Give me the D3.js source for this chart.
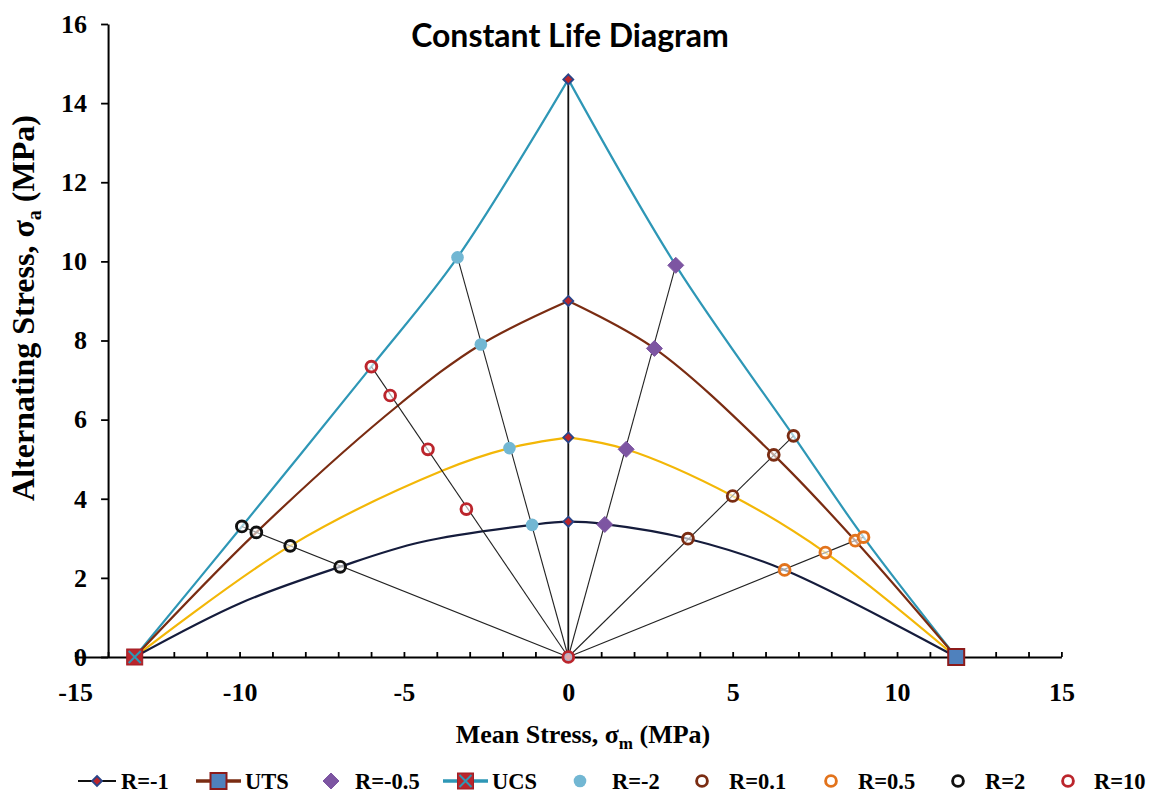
<!DOCTYPE html>
<html>
<head>
<meta charset="utf-8">
<script src="https://cdn.jsdelivr.net/npm/d3@7"></script>
<style>
  body { margin: 0; background: #fff; }
  svg { display: block; }
</style>
</head>
<body>
<svg id="chart" width="1151" height="806"></svg>
<script>
// ---- axis ticks ----
const xTickValues = d3.range(-15, 16, 1);
const xTickLabels = [-15, -10, -5, 0, 5, 10, 15];
const yTickValues = [0, 2, 4, 6, 8, 10, 12, 14, 16];

// ---- constant life curves (mean stress, alternating stress) in MPa ----
const ucsCurve = [[-13.19, 0], [-9.93, 3.30], [-5.99, 7.34], [-3.37, 10.10], [0, 14.60],
                  [3.27, 9.90], [6.85, 5.59], [8.98, 3.03], [11.80, 0]];
const utsCurve = [[-13.19, 0], [-9.49, 3.15], [-5.16, 6.37], [-2.66, 7.90], [0, 9.00],
                  [2.62, 7.80], [6.25, 5.11], [8.73, 2.94], [11.80, 0]];
const midCurve = [[-13.19, 0], [-8.46, 2.81], [-3.80, 4.72], [-1.79, 5.28], [0, 5.55],
                  [1.76, 5.25], [5.00, 4.07], [7.82, 2.64], [11.80, 0]];
const lowCurve = [[-13.19, 0], [-9.98, 1.36], [-6.94, 2.28], [-4.50, 2.90], [-1.10, 3.34], [0, 3.42],
                  [1.10, 3.36], [3.64, 2.99], [6.58, 2.20], [11.80, 0]];

// ---- stress ratio series ----
const rNeg1 = [[0, 0], [0, 3.42], [0, 5.55], [0, 9.00], [0, 14.60]];
const utsPoint = [[11.80, 0]];
const rNeg05 = [[1.11, 3.35], [1.76, 5.25], [2.62, 7.80], [3.27, 9.90]];
const ucsPoint = [[-13.19, 0]];
const rNeg2 = [[-1.10, 3.34], [-1.79, 5.28], [-2.66, 7.90], [-3.37, 10.10]];
const r01 = [[3.64, 2.99], [5.00, 4.07], [6.25, 5.11], [6.85, 5.59]];
const r05 = [[6.58, 2.20], [7.82, 2.64], [8.73, 2.94], [8.98, 3.03]];
const r2 = [[-6.94, 2.28], [-8.46, 2.81], [-9.49, 3.15], [-9.93, 3.30]];
const r10 = [[0, 0], [-3.10, 3.74], [-4.27, 5.25], [-5.42, 6.61], [-5.99, 7.34]];

const legendNames = ["R=-1", "UTS", "R=-0.5", "UCS", "R=-2", "R=0.1", "R=0.5", "R=2", "R=10"];

// ---- colours ----
const C = {
  teal: "#2e97b6", brown: "#7a2c12", gold: "#f3b707", navy: "#151c3c",
  purple: "#7d55a2", sky: "#72b7d3", red: "#bb252c", orange: "#e2731c",
  blue: "#4f81bd", darkRed: "#8c1b1b", diamondEdge: "#2a4488", black: "#111"
};

const svg = d3.select("#chart");
const x = d3.scaleLinear().domain([-15, 15]).range([75.2, 1061.4]);
const y = d3.scaleLinear().domain([0, 16]).range([657, 24]);

// ---- title ----
svg.append("text")
  .attr("x", 570).attr("y", 47)
  .attr("text-anchor", "middle")
  .style("font-family", "Lato, 'Open Sans', sans-serif")
  .style("font-weight", 700).style("font-size", "32px")
  .text("Constant Life Diagram");

// ---- axes ----
const serif = "'Liberation Serif', 'Times New Roman', serif";

const xAxis = d3.axisBottom(x)
  .tickValues(xTickValues)
  .tickSizeInner(-5).tickSizeOuter(0)
  .tickPadding(26)
  .tickFormat(d => xTickLabels.includes(d) ? d : "");
const gx = svg.append("g").attr("transform", `translate(0,${y(0)})`).call(xAxis);

const yAxis = d3.axisLeft(y)
  .tickValues(yTickValues)
  .tickSizeInner(7).tickSizeOuter(0)
  .tickPadding(14);
const gy = svg.append("g").attr("transform", `translate(${x(-14)},0)`).call(yAxis);

[gx, gy].forEach(g => {
  g.select(".domain").attr("stroke", "#000").attr("stroke-width", 2);
  g.selectAll(".tick line").attr("stroke", "#000").attr("stroke-width", 1.8);
  g.selectAll(".tick text")
    .attr("fill", "#000")
    .style("font-family", serif).style("font-weight", 700).style("font-size", "26px");
});

// axis titles
const xTitle = svg.append("text")
  .attr("x", 583).attr("y", 743)
  .attr("text-anchor", "middle")
  .style("font-family", serif).style("font-weight", 700).style("font-size", "26px");
xTitle.append("tspan").text("Mean Stress, σ");
xTitle.append("tspan").attr("dy", 6).style("font-size", "17px").text("m");
xTitle.append("tspan").attr("dy", -6).text(" (MPa)");

const yTitle = svg.append("text")
  .attr("transform", "translate(34,308) rotate(-90)")
  .attr("text-anchor", "middle")
  .style("font-family", serif).style("font-weight", 700).style("font-size", "32px");
yTitle.append("tspan").text("Alternating Stress, σ");
yTitle.append("tspan").attr("dy", 7).style("font-size", "20px").text("a");
yTitle.append("tspan").attr("dy", -7).text(" (MPa)");

// ---- curves ----
const smooth = d3.line().x(d => x(d[0])).y(d => y(d[1])).curve(d3.curveCatmullRom.alpha(0.5));
const straight = d3.line().x(d => x(d[0])).y(d => y(d[1]));

// split a curve at its peak so each flank is smoothed separately
function flanks(pts) {
  const i = pts.findIndex(p => p[0] === 0);
  return [pts.slice(0, i + 1), pts.slice(i)];
}

const plot = svg.append("g");

[[ucsCurve, C.teal, true], [utsCurve, C.brown, true], [midCurve, C.gold, true], [lowCurve, C.navy, false]]
  .forEach(([pts, col, split]) => {
    const parts = split ? flanks(pts) : [pts];
    parts.forEach(p => plot.append("path")
      .attr("d", smooth(p)).attr("fill", "none")
      .attr("stroke", col).attr("stroke-width", 2.2));
  });

// rays from the origin along each stress ratio
[rNeg05, rNeg2, r01, r05, r2, r10].forEach(pts => {
  const far = pts.reduce((a, b) => (Math.hypot(b[0], b[1]) > Math.hypot(a[0], a[1]) ? b : a));
  plot.append("path")
    .attr("d", straight([[0, 0], far])).attr("fill", "none")
    .attr("stroke", "#222").attr("stroke-width", 1.1);
});
plot.append("path").attr("d", straight(rNeg1)).attr("fill", "none")
  .attr("stroke", C.black).attr("stroke-width", 1.8);

// ---- markers ----
function marker(g, type, cx, cy) {
  switch (type) {
    case "diamondSmall": {
      const s = 5;
      g.append("path").attr("d", `M${cx},${cy - s}L${cx + s},${cy}L${cx},${cy + s}L${cx - s},${cy}Z`)
        .attr("fill", C.red).attr("stroke", C.diamondEdge).attr("stroke-width", 1.8);
      break;
    }
    case "diamondBig": {
      const s = 8;
      g.append("path").attr("d", `M${cx},${cy - s}L${cx + s},${cy}L${cx},${cy + s}L${cx - s},${cy}Z`)
        .attr("fill", C.purple).attr("stroke", C.purple).attr("stroke-width", 1);
      break;
    }
    case "uts":
      g.append("rect").attr("x", cx - 8).attr("y", cy - 8).attr("width", 16).attr("height", 16)
        .attr("fill", C.blue).attr("stroke", C.darkRed).attr("stroke-width", 2);
      break;
    case "ucs":
      g.append("rect").attr("x", cx - 8).attr("y", cy - 8).attr("width", 16).attr("height", 16)
        .attr("fill", C.red).attr("stroke", "#a01f24").attr("stroke-width", 1);
      g.append("path").attr("d", `M${cx - 6},${cy - 6}L${cx + 6},${cy + 6}M${cx + 6},${cy - 6}L${cx - 6},${cy + 6}`)
        .attr("stroke", C.teal).attr("stroke-width", 2);
      break;
    case "dot":
      g.append("circle").attr("cx", cx).attr("cy", cy).attr("r", 6.3).attr("fill", C.sky);
      break;
    default: // open ring, type holds the colour
      g.append("circle").attr("cx", cx).attr("cy", cy).attr("r", 5.4)
        .attr("fill", "#fff").attr("fill-opacity", 0.6)
        .attr("stroke", type).attr("stroke-width", 2.9);
  }
}

const seriesMarks = [
  [rNeg1, "diamondSmall"], [utsPoint, "uts"], [rNeg05, "diamondBig"], [ucsPoint, "ucs"],
  [rNeg2, "dot"], [r01, C.brown], [r05, C.orange], [r2, C.black], [r10, C.red]
];
const markG = svg.append("g");
seriesMarks.forEach(([pts, type]) => pts.forEach(p => marker(markG, type, x(p[0]), y(p[1]))));

// ---- legend ----
const legendY = 781;
const legendLayout = [
  { sym: 97, text: 121, line: [78, 116], col: C.black },
  { sym: 218.5, text: 245, line: [196, 241], col: C.brown },
  { sym: 331, text: 355 },
  { sym: 465.5, text: 492, line: [443, 488], col: C.teal },
  { sym: 580, text: 612 },
  { sym: 702, text: 729 },
  { sym: 831, text: 858 },
  { sym: 958, text: 985 },
  { sym: 1068, text: 1094 }
];
const leg = svg.append("g");
legendNames.forEach((name, i) => {
  const L = legendLayout[i];
  if (L.line) {
    leg.append("line").attr("x1", L.line[0]).attr("x2", L.line[1])
      .attr("y1", legendY).attr("y2", legendY)
      .attr("stroke", L.col).attr("stroke-width", i === 0 ? 2.2 : 3.5);
  }
  marker(leg, seriesMarks[i][1], L.sym, legendY);
  leg.append("text").attr("x", L.text).attr("y", legendY + 8)
    .style("font-family", serif).style("font-weight", 700).style("font-size", "22.5px")
    .text(name);
});
</script>
</body>
</html>
